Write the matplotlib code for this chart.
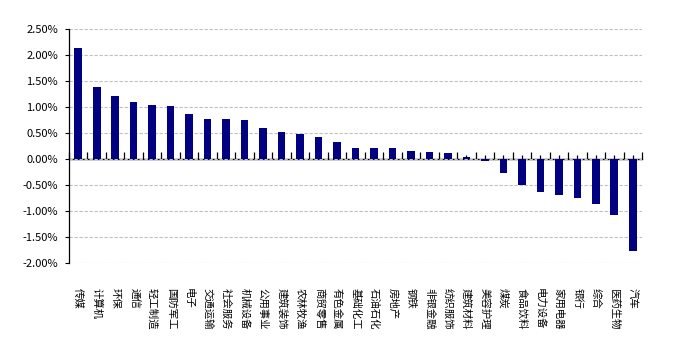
import numpy as np
import matplotlib.pyplot as plt
import matplotlib.ticker as mticker

plt.rcParams['font.family'] = ['Noto Sans CJK SC', 'DejaVu Sans']

industries = ['传媒', '计算机', '环保', '通信', '轻工制造', '国防军工', '电子', '交通运输',
              '社会服务', '机械设备', '公用事业', '建筑装饰', '农林牧渔', '商贸零售', '有色金属',
              '基础化工', '石油石化', '房地产', '钢铁', '非银金融', '纺织服饰', '建筑材料',
              '美容护理', '煤炭', '食品饮料', '电力设备', '家用电器', '银行', '综合', '医药生物', '汽车']
returns = [2.13, 1.39, 1.21, 1.10, 1.04, 1.02, 0.87, 0.77,
           0.77, 0.75, 0.60, 0.52, 0.48, 0.42, 0.33,
           0.21, 0.21, 0.21, 0.15, 0.13, 0.11, 0.04,
           -0.03, -0.27, -0.50, -0.63, -0.70, -0.75, -0.86, -1.07, -1.77]

fig = plt.figure(figsize=(6.81, 3.62), dpi=100)
ax = fig.add_axes([69/681, 1 - 263/362, 573/681, 234/362])

x = np.arange(len(industries))
ax.bar(x, returns, width=0.41, color='#000080', zorder=3)

ymin, ymax = -2.0, 2.5
ax.set_ylim(ymin, ymax)
ax.set_xlim(-0.5, len(industries) - 0.5)
ax.yaxis.set_major_locator(mticker.MultipleLocator(0.5))
ax.yaxis.set_major_formatter(mticker.FuncFormatter(lambda v, p: '%.2f%%' % v))
ax.yaxis.grid(True, linestyle=(0, (3, 1.5)), color='#c0c0c0', linewidth=0.8, zorder=0)
ax.tick_params(axis='y', direction='out', length=3, width=0.8, labelsize=8, pad=5)

ax.set_xticks(x)
ax.set_xticklabels(industries, rotation=270, fontsize=7.5, va='top', ha='center')
ax.tick_params(axis='x', length=0, pad=18)

for s in ['top', 'right', 'bottom']:
    ax.spines[s].set_visible(False)
ax.spines['left'].set_linewidth(0.9)

# category axis drawn at zero
zero_ax = ax.secondary_xaxis((0 - ymin) / (ymax - ymin))
zero_ax.set_xticks(np.arange(len(industries) + 1) - 0.5)
zero_ax.set_xticks(x, minor=True)
zero_ax.tick_params(which='major', direction='in', length=5, width=0.9, labelbottom=False)
zero_ax.tick_params(which='minor', direction='in', length=3, width=0.9, labelbottom=False)
zero_ax.spines['bottom'].set_visible(True)
zero_ax.spines['bottom'].set_linewidth(1.0)

fig.savefig('out.png', dpi=100)
